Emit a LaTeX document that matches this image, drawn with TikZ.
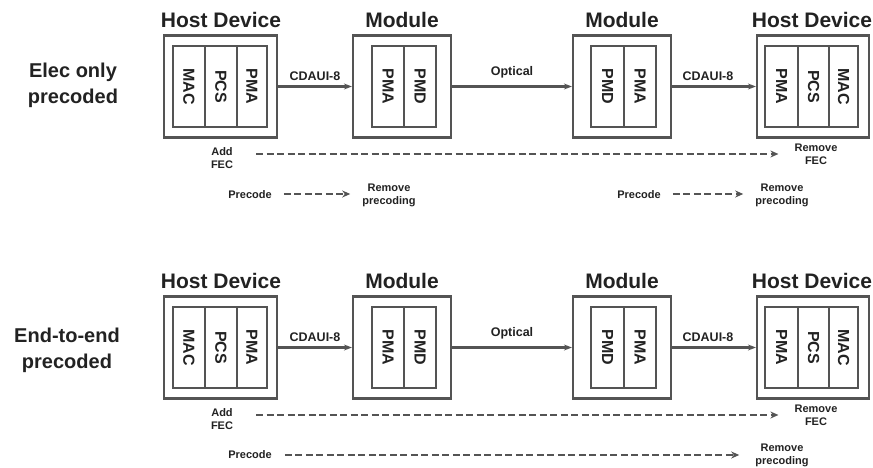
\documentclass[tikz,border=0pt]{standalone}
\usepackage{fontspec}
\setmainfont{Liberation Sans}
\usetikzlibrary{arrows.meta}
\definecolor{linegray}{HTML}{545454}
\definecolor{inkgray}{HTML}{222222}

% one row of the link: host -> module -> module -> host
\newcommand\chainrow[1]{%
  % titles
  \node[title] (#1ht1) at (221,20) {Host Device};
  \node[title] (#1mt1) at (402,20) {Module};
  \node[title] (#1mt2) at (622,20) {Module};
  \node[title] (#1ht2) at (812,20) {Host Device};
  % outer boxes
  \node[outerbox, minimum width=113pt] (#1h1) at (220.5,86.5) {};
  \node[outerbox, minimum width=98pt]  (#1m1) at (402,86.5) {};
  \node[outerbox, minimum width=98pt]  (#1m2) at (622,86.5) {};
  \node[outerbox, minimum width=112pt] (#1h2) at (813,86.5) {};
  % layer cells, host 1
  \node[cell, minimum height=32pt] (#1h1a) at (189,86.5) {MAC};
  \node[cell, minimum height=32pt] (#1h1b) at (221,86.5) {PCS};
  \node[cell, minimum height=30pt] (#1h1c) at (252,86.5) {PMA};
  % module 1
  \node[cell, minimum height=32pt] (#1m1a) at (388,86.5) {PMA};
  \node[cell, minimum height=32pt] (#1m1b) at (420,86.5) {PMD};
  % module 2
  \node[cell, minimum height=33pt] (#1m2a) at (607.5,86.5) {PMD};
  \node[cell, minimum height=32pt] (#1m2b) at (640,86.5) {PMA};
  % host 2
  \node[cell, minimum height=33pt] (#1h2a) at (781.5,86.5) {PMA};
  \node[cell, minimum height=31pt] (#1h2b) at (813.5,86.5) {PCS};
  \node[cell, minimum height=29pt] (#1h2c) at (843.5,86.5) {MAC};
  % links
  \draw[link] (#1h1) -- node[linklabel, above=5pt] {CDAUI-8} (#1m1);
  \draw[link] (#1m1) -- node[linklabel, above=7.5pt] {Optical} (#1m2);
  \draw[link] (#1m2) -- node[linklabel, above=5pt, xshift=-6pt] {CDAUI-8} (#1h2);
  % FEC added and removed end to end
  \node[small] (#1addfec) at (222,158.5) {Add\\FEC};
  \node[small] (#1remfec) at (816,154.5) {Remove\\FEC};
  \draw[dasharrow] ([xshift=23pt,yshift=4.5pt]#1addfec.east) -- ([xshift=-16pt,yshift=0.5pt]#1remfec.west);
}

\begin{document}
\begin{tikzpicture}[x=1pt,y=-1pt,
  every node/.style={text=inkgray, inner sep=0pt},
  title/.style={font=\fontsize{21}{24}\selectfont\bfseries},
  rowlabel/.style={font=\fontsize{20}{26}\selectfont\bfseries, align=center},
  outerbox/.style={draw=linegray, line width=2.2pt, minimum height=102pt},
  cell/.style={draw=linegray, line width=2pt, rotate=-90, minimum width=81pt,
    font=\fontsize{16}{18}\selectfont\bfseries},
  link/.style={draw=linegray, line width=2.2pt, -{Stealth[length=8pt,width=6pt]}},
  linklabel/.style={font=\fontsize{12.5}{14}\selectfont\bfseries, anchor=south},
  small/.style={font=\fontsize{11}{13}\selectfont\bfseries, align=center},
  dasharrow/.style={draw=linegray, line width=2.6pt, dash pattern=on 7pt off 3.5pt,
    -{Stealth[length=8pt,width=7pt]}},
]
\useasboundingbox (0,0) rectangle (873,468);

% electrical-only precoding
\begin{scope}
  \chainrow{t}
  \node[rowlabel] (tlabel) at (73,85) {Elec only\\precoded};
  \node[small] (tpre1) at (250,195) {Precode};
  \node[small] (trem1) at (389,195) {Remove\\precoding};
  \draw[dasharrow] ([xshift=12pt,yshift=1pt]tpre1.east) -- ([xshift=-12pt,yshift=1pt]trem1.west);
  \node[small] (tpre2) at (639,195) {Precode};
  \node[small] (trem2) at (782,195) {Remove\\precoding};
  \draw[dasharrow] ([xshift=12pt,yshift=1pt]tpre2.east) -- ([xshift=-12pt,yshift=1pt]trem2.west);
\end{scope}

% end-to-end precoding
\begin{scope}[shift={(0,261)}]
  \chainrow{b}
  \node[rowlabel] (blabel) at (67,89) {End-to-end\\precoded};
  \node[small] (bpre) at (250,194) {Precode};
  \node[small] (brem) at (782,194) {Remove\\precoding};
  \draw[dasharrow] ([xshift=13pt]bpre.east) -- ([xshift=-16pt]brem.west);
\end{scope}
\end{tikzpicture}
\end{document}
